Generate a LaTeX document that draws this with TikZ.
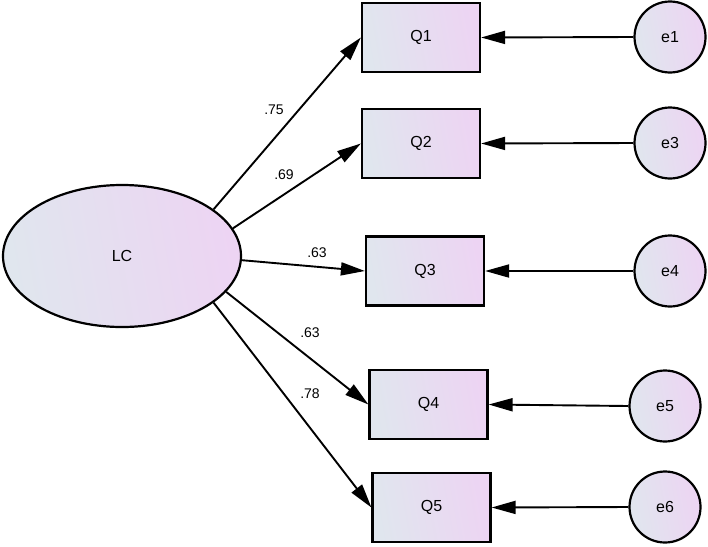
\documentclass[tikz,border=0pt]{standalone}
\usepackage{fontspec}
\setmainfont{Liberation Sans}
\usetikzlibrary{shapes.geometric,arrows.meta}
\definecolor{fillA}{RGB}{224,230,238}
\definecolor{fillB}{RGB}{237,212,243}
\begin{document}
\begin{tikzpicture}[x=1pt,y=-1pt,
  base/.style={draw=black,line width=2.2pt,left color=fillA,right color=fillB,shading angle=100,font=\fontsize{16}{18}\selectfont,inner sep=0pt},
  obs/.style={base,rectangle,minimum width=118pt,minimum height=69pt},
  err/.style={base,circle,minimum size=71pt},
  lat/.style={base,ellipse,minimum width=238pt,minimum height=142pt},
  path/.style={line width=1.9pt,-{Triangle[length=24pt,width=13pt]}},
  lbl/.style={font=\fontsize{14}{16}\selectfont}]
\useasboundingbox (0,0) rectangle (708,546);
\node[lat] (LC) at (122,256) {LC};
\node[obs] (Q1) at (421,37.5) {Q1};
\node[obs] (Q2) at (421,143.5) {Q2};
\node[obs] (Q3) at (425,271) {Q3};
\node[obs] (Q4) at (428.5,404.5) {Q4};
\node[obs] (Q5) at (431.5,507.5) {Q5};
\node[err] (e1) at (670,37) {e1};
\node[err] (e3) at (670,143) {e3};
\node[err] (e4) at (670,271) {e4};
\node[err] (e5) at (665,406) {e5};
\node[err] (e6) at (665,507) {e6};
\draw[path] (LC.27) -- (Q1.west);
\draw[path] (LC.14) -- (Q2.west);
\draw[path] (LC.-2) -- (Q3.west);
\draw[path] (LC.-19) -- (Q4.west);
\draw[path] (LC.-27) -- (Q5.west);
\draw[path] (e1.west) -- (Q1.east);
\draw[path] (e3.west) -- (Q2.east);
\draw[path] (e4.west) -- (Q3.east);
\draw[path] (e5.west) -- (Q4.east);
\draw[path] (e6.west) -- (Q5.east);
\node[lbl] (l1) at (274,110) {.75};
\node[lbl] (l2) at (284,175) {.69};
\node[lbl] (l3) at (317,253) {.63};
\node[lbl] (l4) at (310,333) {.63};
\node[lbl] (l5) at (310,394) {.78};
\end{tikzpicture}
\end{document}
